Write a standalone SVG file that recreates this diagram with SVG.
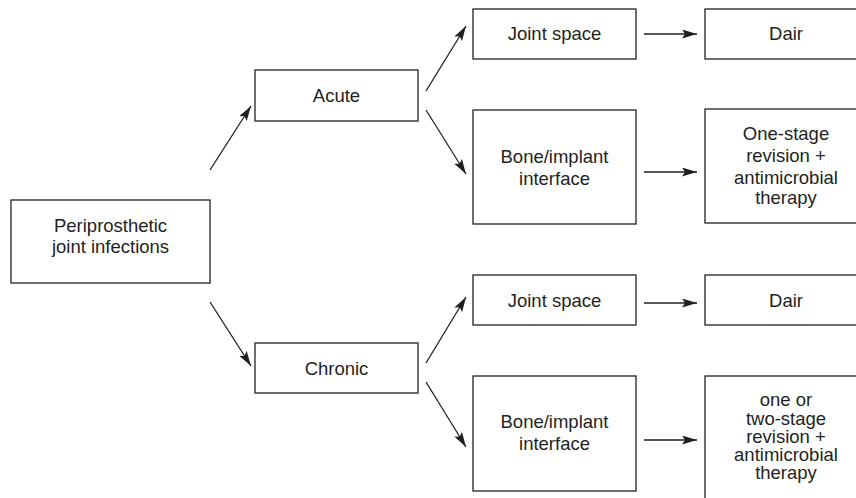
<svg xmlns="http://www.w3.org/2000/svg" width="856" height="498" viewBox="0 0 856 498">
<style>
.box{fill:#fff;stroke:#231f20;stroke-width:1.3}
.t{font-family:"Liberation Sans",Arial,Helvetica,sans-serif;font-size:18.5px;fill:#231f20;text-anchor:middle}
.c{stroke:#231f20;stroke-width:1.3;fill:none;marker-end:url(#ah)}
</style>
<defs>
<marker id="ah" markerUnits="userSpaceOnUse" markerWidth="16" markerHeight="10" refX="15" refY="4.5" orient="auto">
<path d="M0,0 L15,4.5 L0,9 L3,4.5 z" fill="#231f20"/>
</marker>
</defs>
<rect width="856" height="498" fill="#fff"/>
<g id="connectors">
<line class="c" x1="210" y1="170" x2="251" y2="106"/>
<line class="c" x1="210" y1="302" x2="251" y2="366"/>
<line class="c" x1="426" y1="91" x2="466" y2="26"/>
<line class="c" x1="426" y1="110" x2="466" y2="174"/>
<line class="c" x1="644" y1="34" x2="697" y2="34"/>
<line class="c" x1="644" y1="172" x2="697" y2="172"/>
<line class="c" x1="426" y1="363" x2="466" y2="297"/>
<line class="c" x1="426" y1="382" x2="466" y2="447"/>
<line class="c" x1="644" y1="303" x2="697" y2="303"/>
<line class="c" x1="644" y1="440" x2="697" y2="440"/>
</g>
<g id="pji"><rect class="box" x="11" y="200" width="199" height="83"/>
<text class="t" x="110.5" y="232">Periprosthetic</text><text class="t" x="110.5" y="253">joint infections</text></g>
<g id="acute"><rect class="box" x="255" y="70" width="163" height="51"/><text class="t" x="336.5" y="102">Acute</text></g>
<g id="js1"><rect class="box" x="473" y="9" width="163" height="50"/><text class="t" x="554.5" y="40">Joint space</text></g>
<g id="dair1"><rect class="box" x="705" y="9" width="163" height="50"/><text class="t" x="786" y="40">Dair</text></g>
<g id="bone1"><rect class="box" x="473" y="110" width="163" height="114"/>
<text class="t" x="554.5" y="163">Bone/implant</text><text class="t" x="554.5" y="185">interface</text></g>
<g id="onestage"><rect class="box" x="705" y="109" width="163" height="114"/>
<text class="t" x="786" y="140">One-stage</text><text class="t" x="786" y="162">revision +</text><text class="t" x="786" y="184">antimicrobial</text><text class="t" x="786" y="204">therapy</text></g>
<g id="chronic"><rect class="box" x="255" y="343" width="163" height="50"/><text class="t" x="336.5" y="375">Chronic</text></g>
<g id="js2"><rect class="box" x="473" y="275" width="163" height="50"/><text class="t" x="554.5" y="307">Joint space</text></g>
<g id="dair2"><rect class="box" x="705" y="275" width="163" height="50"/><text class="t" x="786" y="307">Dair</text></g>
<g id="bone2"><rect class="box" x="473" y="376" width="163" height="115"/>
<text class="t" x="554.5" y="428">Bone/implant</text><text class="t" x="554.5" y="450">interface</text></g>
<g id="twostage"><rect class="box" x="705" y="376" width="163" height="130"/>
<text class="t" x="786" y="406">one or</text><text class="t" x="786" y="425">two-stage</text><text class="t" x="786" y="443">revision +</text><text class="t" x="786" y="461">antimicrobial</text><text class="t" x="786" y="479">therapy</text></g>
</svg>
